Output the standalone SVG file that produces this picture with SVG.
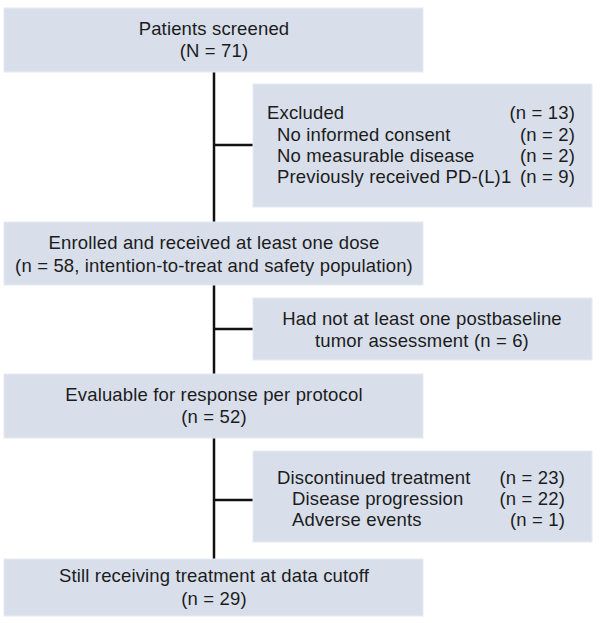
<svg xmlns="http://www.w3.org/2000/svg" width="600" height="623" viewBox="0 0 600 623">
<style>
.box{fill:#d8dfeb;stroke:#e6eaf2;stroke-width:1}
.ln{stroke:#111;stroke-width:2.5;fill:none}
text{font-family:"Liberation Sans",Arial,sans-serif;font-size:18.5px;letter-spacing:0.15px;fill:#1c1c1c}
.c{text-anchor:middle}
.r{text-anchor:end}
</style>
<rect width="600" height="623" fill="#fff"/>
<g id="connectors">
<path class="ln" d="M214,72 V222 M214,285 V374 M214,438 V559"/>
<path class="ln" d="M214,145 H253 M214,329 H253 M214,500 H253"/>
</g>
<g id="screened">
<rect class="box" x="4" y="8" width="419" height="64"/>
<text class="c" x="214" y="35">Patients screened</text>
<text class="c" x="214" y="57">(N = 71)</text>
</g>
<g id="excluded">
<rect class="box" x="253" y="84" width="339" height="123"/>
<text x="267" y="119">Excluded</text>
<text class="r" x="575" y="119">(n = 13)</text>
<text x="277" y="141">No informed consent</text>
<text class="r" x="575" y="141">(n = 2)</text>
<text x="277" y="162">No measurable disease</text>
<text class="r" x="575" y="162">(n = 2)</text>
<text x="277" y="183">Previously received PD-(L)1</text>
<text class="r" x="575" y="183">(n = 9)</text>
</g>
<g id="enrolled">
<rect class="box" x="4" y="222" width="419" height="63"/>
<text class="c" x="214" y="249">Enrolled and received at least one dose</text>
<text class="c" x="214" y="272">(n = 58, intention-to-treat and safety population)</text>
</g>
<g id="noassessment">
<rect class="box" x="253" y="298" width="339" height="62"/>
<text class="c" x="422" y="325">Had not at least one postbaseline</text>
<text class="c" x="422" y="347">tumor assessment (n = 6)</text>
</g>
<g id="evaluable">
<rect class="box" x="4" y="374" width="419" height="64"/>
<text class="c" x="214" y="401">Evaluable for response per protocol</text>
<text class="c" x="214" y="423">(n = 52)</text>
</g>
<g id="discontinued">
<rect class="box" x="253" y="451" width="339" height="91"/>
<text x="277" y="484">Discontinued treatment</text>
<text class="r" x="565" y="484">(n = 23)</text>
<text x="292" y="505">Disease progression</text>
<text class="r" x="565" y="505">(n = 22)</text>
<text x="292" y="526">Adverse events</text>
<text class="r" x="565" y="526">(n = 1)</text>
</g>
<g id="still">
<rect class="box" x="4" y="559" width="419" height="57"/>
<text class="c" x="214" y="582">Still receiving treatment at data cutoff</text>
<text class="c" x="214" y="605">(n = 29)</text>
</g>
</svg>
